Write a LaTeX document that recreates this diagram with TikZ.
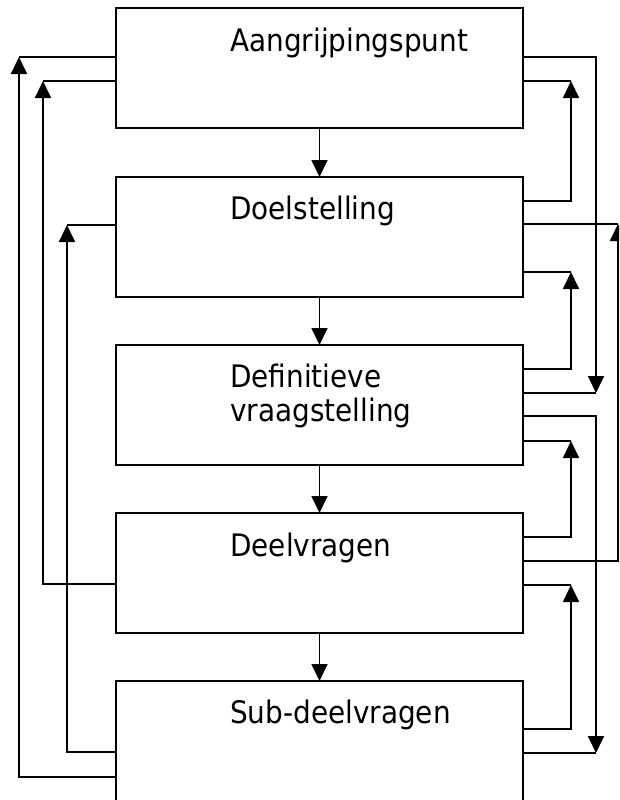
\documentclass[tikz,border=0pt]{standalone}
\usepackage{fontspec}
\setmainfont{DejaVu Sans}[FakeStretch=0.9]
\usetikzlibrary{arrows.meta}
\begin{document}
\begin{tikzpicture}[x=1pt,y=-1pt,
  box/.style={draw,line width=1.8pt,minimum width=407pt,minimum height=120pt,inner sep=0pt,outer sep=0pt},
  lbl/.style={inner sep=0pt,anchor=base west,font=\fontsize{31}{34}\selectfont},
  ln/.style={line width=1.8pt},
  arr/.style={line width=1.8pt,-{Triangle[width=16pt,length=17pt]}}]
\useasboundingbox (0,0) rectangle (619,800);
\begin{scope}
\clip (0,0) rectangle (619,800);
% boxes
\node[box] (b1) at (319.5,68) {};
\node[box] (b2) at (319.5,237) {};
\node[box] (b3) at (319.5,405) {};
\node[box] (b4) at (319.5,573) {};
\node[box] (b5) at (319.5,741) {};
% labels
\node[lbl] (t1) at (230,52) {Aangrijpingspunt};
\node[lbl] (t2) at (230,219) {Doelstelling};
\node[lbl] (t3a) at (230,387) {Definitieve};
\node[lbl] (t3b) at (230,421) {vraagstelling};
\node[lbl] (t4) at (230,556) {Deelvragen};
\node[lbl] (t5) at (230,723) {Sub-deelvragen};
% central arrows
\draw[arr] (b1.south) -- (b2.north);
\draw[arr] (b2.south) -- (b3.north);
\draw[arr] (b3.south) -- (b4.north);
\draw[arr] (b4.south) -- (b5.north);
% corner coordinates
\coordinate (r13) at (596,393);
\coordinate (r35) at (596,753);
\coordinate (u12) at (571,81);
\coordinate (u23) at (571,272);
\coordinate (u34) at (571,441);
\coordinate (u45) at (571,585);
\coordinate (u24) at (618,224);
\coordinate (l15) at (19,57);
\coordinate (l14) at (43,81);
\coordinate (l25) at (67,225);
% right side: down arrows
\draw[ln] ([yshift=-48pt]b3.north east) -- (r13);
\draw[arr] ([yshift=-49pt]b1.north east) -| (r13);
\draw[ln] ([yshift=-72pt]b5.north east) -- (r35);
\draw[arr] ([yshift=-71pt]b3.north east) -| (r35);
% right side: up arrows between neighbours
\draw[arr] ([yshift=-24pt]b2.north east) -| (u12);
\draw[ln] (u12) -- ([yshift=-73pt]b1.north east);
\draw[arr] ([yshift=-24pt]b3.north east) -| (u23);
\draw[ln] (u23) -- ([yshift=-95pt]b2.north east);
\draw[arr] ([yshift=-24pt]b4.north east) -| (u34);
\draw[ln] (u34) -- ([yshift=-96pt]b3.north east);
\draw[arr] ([yshift=-48pt]b5.north east) -| (u45);
\draw[ln] (u45) -- ([yshift=-72pt]b4.north east);
% right side: box4 to box2
\draw[arr] ([yshift=-48pt]b4.north east) -| (u24);
\draw[ln] (u24) -- ([yshift=-47pt]b2.north east);
% left side
\draw[arr] ([yshift=-96pt]b5.north west) -| (l15);
\draw[ln] (l15) -- ([yshift=-49pt]b1.north west);
\draw[arr] ([yshift=-71pt]b4.north west) -| (l14);
\draw[ln] (l14) -- ([yshift=-73pt]b1.north west);
\draw[arr] ([yshift=-71pt]b5.north west) -| (l25);
\draw[ln] (l25) -- ([yshift=-48pt]b2.north west);
\end{scope}
\end{tikzpicture}
\end{document}
